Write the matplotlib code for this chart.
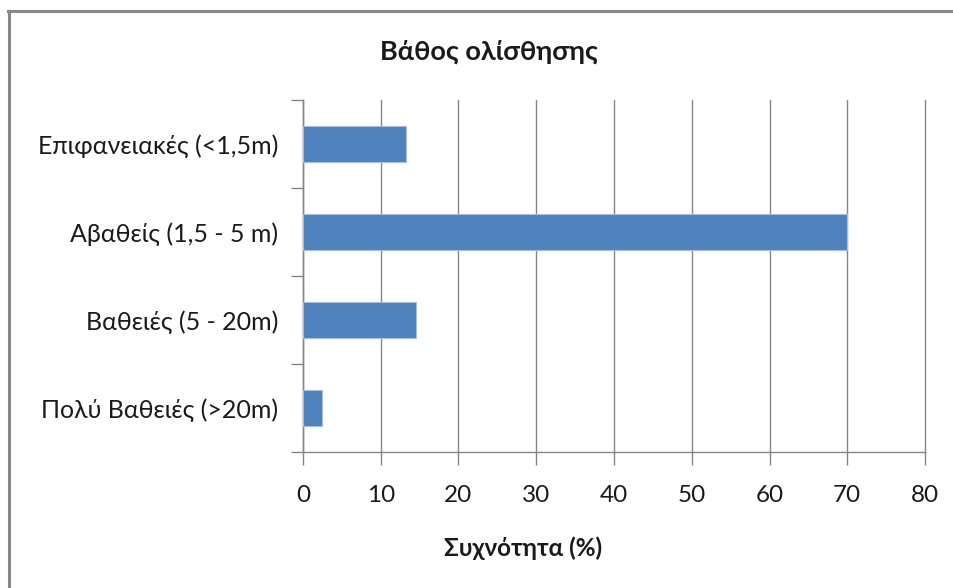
import matplotlib
matplotlib.use("Agg")
import matplotlib.pyplot as plt
from matplotlib.lines import Line2D

plt.rcParams['font.family'] = ['Lato', 'DejaVu Sans']

categories = ["Επιφανειακές (<1,5m)", "Αβαθείς (1,5 - 5 m)", "Βαθειές (5 - 20m)", "Πολύ Βαθειές (>20m)"]
values = [13.3, 70.0, 14.5, 2.4]
xticks = [0, 10, 20, 30, 40, 50, 60, 70, 80]
title = "Βάθος ολίσθησης"
xlabel = "Συχνότητα (%)"

W, H = 954, 588
fig = plt.figure(figsize=(W / 100, H / 100), dpi=100)
ax = fig.add_axes([303 / W, 1 - 452 / H, (925 - 303) / W, (452 - 100) / H])

grey = "#868686"
text_col = "#1a1a1a"
pos = list(range(len(categories)))
ax.barh(pos, values, height=0.4, color="#4F81BD", edgecolor="#A7BFDE", linewidth=0.8, zorder=3)

ax.set_xlim(0, 80)
ax.set_ylim(len(categories) - 0.5, -0.5)

ax.set_xticks(xticks)
ax.set_xticklabels([str(t) for t in xticks], fontsize=17.5, color=text_col)
ax.tick_params(axis="x", direction="out", length=9, width=1, color=grey, pad=15)
ax.grid(axis="x", color=grey, linewidth=1, zorder=0)
for gl in ax.get_xgridlines():
    gl.set_clip_on(False)

# category boundaries carry the ticks, centres carry the labels
ax.set_yticks([p - 0.5 for p in pos] + [len(categories) - 0.5])
ax.set_yticklabels([])
ax.set_yticks(pos, minor=True)
ax.set_yticklabels(categories, minor=True, fontsize=18, color=text_col)
ax.tick_params(axis="y", which="major", direction="out", length=9, width=1, color=grey)
ax.tick_params(axis="y", which="minor", length=0, pad=18)

for s in ("top", "right"):
    ax.spines[s].set_visible(False)
for s in ("left", "bottom"):
    ax.spines[s].set_color(grey)
    ax.spines[s].set_linewidth(1)

fig.text(489 / W, 1 - 52 / H, title, ha="center", va="center", fontsize=19.5, fontweight="bold", color=text_col)
fig.text(523 / W, 1 - 548 / H, xlabel, ha="center", va="center", fontsize=17.5, fontweight="bold", color=text_col)

# chart frame: top and left edges
fig.add_artist(Line2D([9.5 / W, 9.5 / W], [0, 1 - 10.5 / H], transform=fig.transFigure, color="#888888", linewidth=2.2))
fig.add_artist(Line2D([8.5 / W, 1], [1 - 11 / H, 1 - 11 / H], transform=fig.transFigure, color="#888888", linewidth=2.2))

fig.savefig("out.png", dpi=100)
